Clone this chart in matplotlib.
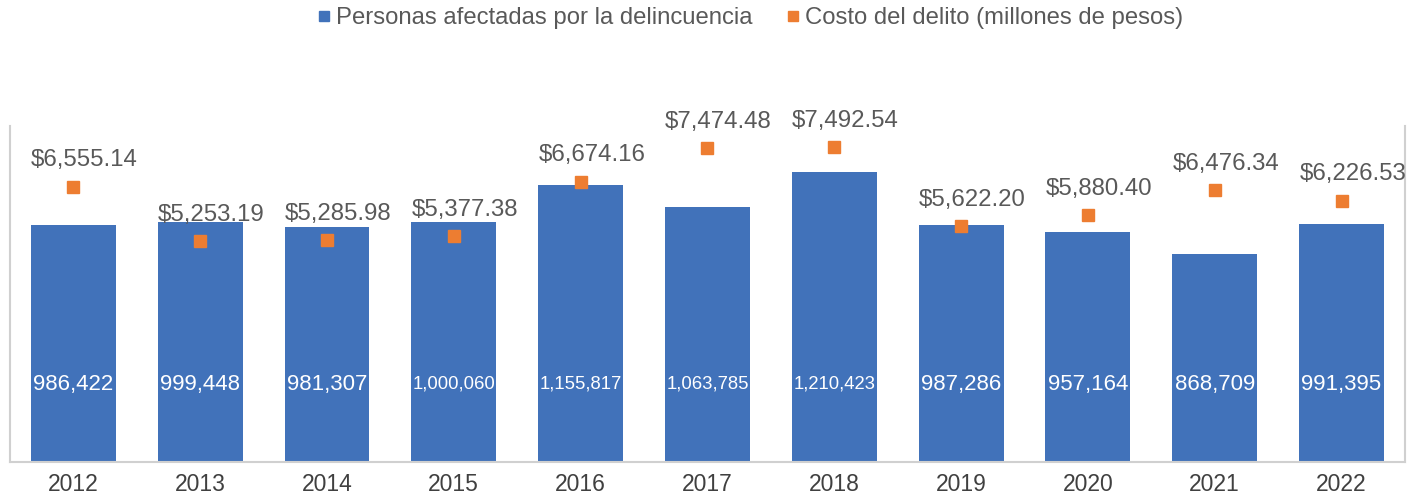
import numpy as np
from matplotlib import pyplot as plt
from matplotlib.lines import Line2D

plt.rcParams['font.family'] = ['Liberation Sans', 'DejaVu Sans']

years = ['2012', '2013', '2014', '2015', '2016', '2017', '2018', '2019', '2020', '2021', '2022']
personas = [986422, 999448, 981307, 1000060, 1155817, 1063785, 1210423, 987286, 957164, 868709, 991395]
costo = [6555.14, 5253.19, 5285.98, 5377.38, 6674.16, 7474.48, 7492.54, 5622.20, 5880.40, 6476.34, 6226.53]

blue = '#4172BA'
orange = '#ED7D31'
grey_txt = '#595959'

fig = plt.figure(figsize=(14.22, 4.97), dpi=100)
ax = fig.add_axes([0.007, 0.0704, 0.981, 0.676])
x = np.arange(len(years))
ax.bar(x, personas, width=0.67, color=blue, zorder=2)
ax.set_ylim(0, 1400000)
ax.set_xlim(-0.5, len(years) - 0.5)
ax.set_yticks([])
ax.set_xticks(x)
ax.set_xticklabels(years, fontsize=16.5, color='#404040')
ax.tick_params(axis='x', length=0, pad=8)
for s in ['left', 'right', 'bottom']:
    ax.spines[s].set_color('#D0D0D0')
    ax.spines[s].set_linewidth(1.5)
ax.spines['top'].set_visible(False)

for xi, v in zip(x, personas):
    fs = 13.3 if v >= 1000000 else 16
    ax.annotate(f'{v:,}', (xi, 0), xytext=(0, 56), textcoords='offset points',
                ha='center', va='center', color='white', fontsize=fs, zorder=3)

ax2 = ax.twinx()
ax2.set_ylim(0, 8000)
ax2.set_yticks([])
for s in ax2.spines.values():
    s.set_visible(False)
ax2.plot(x, costo, linestyle='none', marker='s', markersize=8.5, color=orange, zorder=4)
for xi, v in zip(x, costo):
    ax2.annotate(f'${v:,.2f}', (xi, v), xytext=(8, 19), textcoords='offset points',
                 ha='center', va='center', color=grey_txt, fontsize=17.3)

handles = [Line2D([], [], linestyle='none', marker='s', markersize=7, color=blue),
           Line2D([], [], linestyle='none', marker='s', markersize=7, color=orange)]
fig.legend(handles, ['Personas afectadas por la delincuencia', 'Costo del delito (millones de pesos)'],
           loc='center', bbox_to_anchor=(0.526, 0.963), ncol=2, frameon=False, fontsize=17.2,
           labelcolor=grey_txt, handletextpad=0.0, columnspacing=1.2, handlelength=1.0)

fig.savefig('out.png', dpi=100)
